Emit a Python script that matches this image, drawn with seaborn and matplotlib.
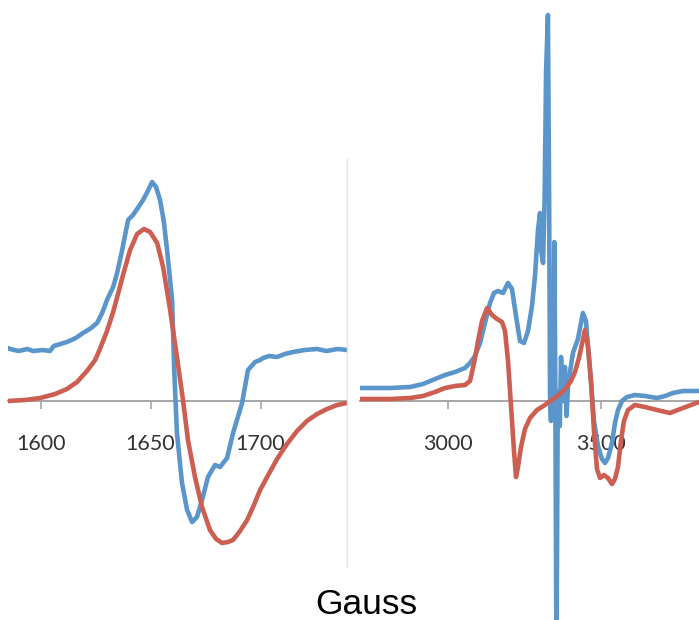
import numpy as np
import pandas as pd
import matplotlib
matplotlib.use("Agg")
import matplotlib.pyplot as plt
import seaborn as sns
from matplotlib.lines import Line2D

# ---- spectra: field (Gauss) and signal (arb. units) ----
# low-field region, measured
low_meas_x = [1585.2, 1586.1, 1590.0, 1594.0, 1596.6, 1601.0, 1604.3, 1606.0, 1607.5,
              1612.0, 1616.0, 1619.3, 1623.0, 1625.7, 1628.0, 1630.2, 1633.0, 1634.8,
              1637.0, 1639.8, 1642.0, 1643.9, 1646.6, 1649.0, 1650.7, 1652.5, 1654.3,
              1656.0, 1657.5, 1659.8, 1660.7, 1662.0, 1664.3, 1666.6, 1668.9, 1671.1,
              1673.4, 1676.1, 1679.3, 1681.6, 1684.8, 1687.5, 1691.6, 1694.3, 1697.5,
              1699.8, 1701.1, 1704.0, 1707.5, 1711.0, 1714.8, 1720.0, 1725.7, 1730.0,
              1735.0, 1739.3]
low_meas_y = [53, 52, 50, 52, 50, 51, 50, 55, 56,
              59, 63, 68, 73, 78, 88, 101, 114, 128,
              150, 181, 186, 192, 201, 211, 219, 214, 201,
              180, 151, 101, 34, -32, -82, -109, -121, -116,
              -99, -76, -64, -66, -57, -32, -2, 31, 39,
              41, 43, 45, 44, 47, 49, 51, 52, 50,
              52, 51]

# low-field region, simulated
low_sim_x = [1585.2, 1593.0, 1599.8, 1606.6, 1612.0, 1616.6, 1621.1, 1624.8, 1627.0,
             1630.2, 1633.0, 1635.2, 1637.5, 1640.7, 1643.9, 1647.0, 1649.8, 1653.0,
             1655.7, 1658.9, 1662.0, 1664.8, 1667.0, 1670.2, 1673.4, 1677.0, 1679.8,
             1682.5, 1685.2, 1687.5, 1690.7, 1693.9, 1697.0, 1699.8, 1703.0, 1707.5,
             1712.0, 1716.6, 1721.1, 1725.7, 1730.2, 1734.8, 1739.3]
low_sim_y = [0, 1, 3, 7, 12, 19, 30, 41, 52,
             70, 89, 107, 126, 151, 167, 172, 169, 158,
             134, 91, 44, 0, -39, -76, -106, -129, -138,
             -142, -141, -139, -130, -119, -104, -89, -76, -58,
             -43, -30, -20, -13, -8, -4, -2]

# g~2 region, measured
high_meas_x = [2710.2, 2808.6, 2874.3, 2916.9, 2956.4, 2989.2, 3022.0, 3054.8, 3071.2,
               3087.6, 3104.0, 3120.4, 3136.8, 3149.9, 3163.0, 3179.5, 3195.9, 3209.0,
               3222.2, 3235.3, 3248.4, 3261.5, 3274.7, 3284.5, 3294.4, 3301.0, 3305,
               3311, 3316, 3321, 3327, 3331, 3334, 3337, 3340, 3345, 3348, 3351, 3355,
               3359, 3362, 3366, 3370, 3376, 3383, 3388, 3393, 3400, 3409.1, 3425.5,
               3441.9, 3451.8, 3458.4, 3468.3, 3478.2, 3491.3, 3504.4, 3514.3, 3524.1,
               3537.3, 3547.1, 3557.0, 3570.1, 3586.5, 3612.7, 3645.5, 3684.9, 3711.2,
               3737.4, 3770.3, 3822.8]
high_meas_y = [13, 13, 14, 17, 22, 26, 29, 33, 38,
               45, 58, 78, 98, 108, 110, 108, 118, 112,
               85, 60, 58, 70, 95, 125, 171, 188, 150,
               138, 200, 330, 386, 200, 0, -20, 30, -10, 159, 30, -260,
               -20, 10, -25, 44, 0, 34, -15, 15, 30, 48, 62,
               88, 80, 55, 20, -20, -45, -58, -62, -57,
               -42, -22, -9, 0, 4, 6, 5, 3, 5,
               8, 10, 10]

# g~2 region, simulated
high_sim_x = [2710.2, 2808.6, 2874.3, 2916.9, 2956.4, 2989.2, 3022.0, 3054.8, 3071.2,
              3084.4, 3097.5, 3110.6, 3127.0, 3143.5, 3159.8, 3176.2, 3186.1, 3196.0,
              3205.8, 3215.6, 3222.2, 3228.7, 3238.6, 3251.7, 3268.1, 3291.1, 3317.3,
              3343.6, 3366.6, 3386.3, 3402.7, 3415.8, 3428.9, 3438.8, 3448.6, 3458.5,
              3468.3, 3478.2, 3488.0, 3497.9, 3511.0, 3524.1, 3537.3, 3547.1, 3557.0,
              3566.8, 3576.6, 3589.7, 3612.7, 3645.5, 3684.9, 3727.6, 3770.3, 3822.8]
high_sim_y = [2, 2, 3, 5, 9, 13, 15, 16, 20,
              38, 60, 80, 93, 86, 82, 79, 70, 40,
              -5, -50, -76, -66, -46, -28, -17, -9, -4,
              2, 7, 13, 20, 29, 43, 57, 71, 55,
              20, -30, -68, -77, -74, -77, -83, -78, -66,
              -40, -20, -9, -4, -6, -9, -12, -7, -1]

low_ticks = [1600, 1650, 1700]
high_ticks = [3000, 3500]
x_title = "Gauss"

BLUE = "#5A96CB"
RED = "#CD5F52"
AXIS_GREY = "#A6A6A6"
TEXT_GREY = "#333333"

sns.set_theme(style="white")
plt.rcParams["font.family"] = ["Lato", "DejaVu Sans"]

W, H = 699, 620
fig = plt.figure(figsize=(W / 100, H / 100), dpi=100)


def panel(rect, meas_x, meas_y, sim_x, sim_y, xlim, ylim, ticks):
    ax = fig.add_axes(rect)
    ax.patch.set_alpha(0)
    meas = pd.DataFrame({"field": meas_x, "signal": meas_y})
    sim = pd.DataFrame({"field": sim_x, "signal": sim_y})
    sns.lineplot(data=meas, x="field", y="signal", ax=ax, color=BLUE,
                 linewidth=3.3, sort=False, estimator=None)
    sns.lineplot(data=sim, x="field", y="signal", ax=ax, color=RED,
                 linewidth=3.3, sort=False, estimator=None)
    for line in ax.get_lines():
        line.set_solid_joinstyle("round")
        line.set_solid_capstyle("round")
    ax.set_xlim(*xlim)
    ax.set_ylim(*ylim)
    for s in ("top", "right", "left"):
        ax.spines[s].set_visible(False)
    ax.spines["bottom"].set_position(("data", 0))
    ax.spines["bottom"].set_color(AXIS_GREY)
    ax.spines["bottom"].set_linewidth(1.4)
    ax.spines["bottom"].set_zorder(0.5)
    ax.set_xticks(ticks)
    ax.set_xticklabels([str(t) for t in ticks])
    ax.tick_params(axis="x", direction="out", length=5.5, width=1.2,
                   color=AXIS_GREY, pad=18, labelsize=15.5, labelcolor=TEXT_GREY,
                   bottom=True)
    ax.set_yticks([])
    ax.set_xlabel("")
    ax.set_ylabel("")
    return ax


# left panel: x 8..347 px, y 0..580 px (zero line at 401 px)
panel([8 / W, 40 / H, 339 / W, 580 / H],
      low_meas_x, low_meas_y, low_sim_x, low_sim_y,
      (1585.2, 1739.3), (-179, 401), low_ticks)

# right panel: x 360..699 px, y 0..620 px
panel([360 / W, 0, 339 / W, 1],
      high_meas_x, high_meas_y, high_sim_x, high_sim_y,
      (2710, 3823), (-219, 401), high_ticks)

# thin divider between the panels
fig.add_artist(Line2D([347 / W, 347 / W], [1 - 567 / H, 1 - 158 / H],
                      transform=fig.transFigure, color="#E6E6E6", linewidth=1))

fig.text(366 / W, 1 - 614 / H, x_title, ha="center", va="baseline",
         fontsize=25.5, color="black", family=["Liberation Sans", "DejaVu Sans"])

fig.savefig("out.png", dpi=100)
